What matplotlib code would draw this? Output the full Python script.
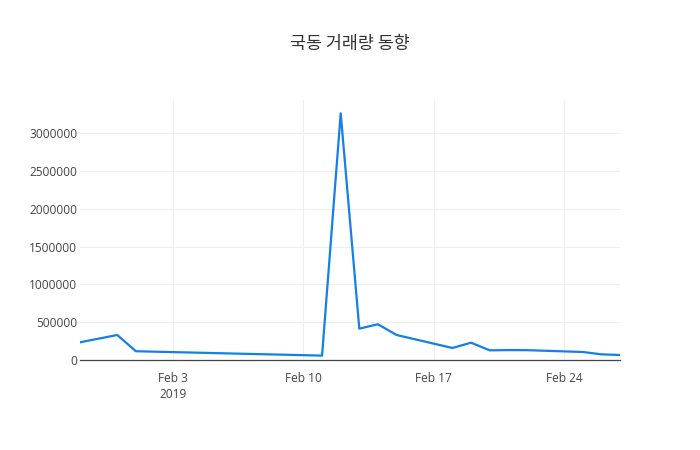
import matplotlib
matplotlib.use("Agg")
import matplotlib.pyplot as plt
import datetime as dt

# daily volume
dates = ["2019-01-29", "2019-01-31", "2019-02-01", "2019-02-11", "2019-02-12",
         "2019-02-13", "2019-02-14", "2019-02-15", "2019-02-18", "2019-02-19",
         "2019-02-20", "2019-02-21", "2019-02-22", "2019-02-25", "2019-02-26",
         "2019-02-27"]
volume = [234000, 331000, 116000, 58000, 3264000,
          415000, 473000, 331000, 159000, 229000,
          128000, 131000, 130000, 106000, 75000,
          66000]

title = "국동 거래량 동향"
tick_dates = ["2019-02-03", "2019-02-10", "2019-02-17", "2019-02-24"]
tick_labels = ["Feb 3\n2019", "Feb 10", "Feb 17", "Feb 24"]
y_ticks = [0, 500000, 1000000, 1500000, 2000000, 2500000, 3000000]

plt.rcParams['font.family'] = ['Open Sans', 'Noto Sans CJK KR', 'DejaVu Sans']

x = [dt.datetime.strptime(d, "%Y-%m-%d") for d in dates]
xt = [dt.datetime.strptime(d, "%Y-%m-%d") for d in tick_dates]

fig = plt.figure(figsize=(7, 4.5), dpi=100)
ax = fig.add_axes([80 / 700, 90 / 450, 540 / 700, 260 / 450])

ax.plot(x, volume, color='#1380e8', linewidth=1.6, zorder=3)

ax.set_xlim(x[0], x[-1])
ax.set_ylim(0, 3.44e6)
ax.set_xticks(xt)
ax.set_xticklabels(tick_labels)
ax.set_yticks(y_ticks)
ax.set_yticklabels([str(v) for v in y_ticks])

ax.grid(True, color='#eeeeee', linewidth=0.75)
ax.set_axisbelow(True)
for s in ['top', 'right', 'left']:
    ax.spines[s].set_visible(False)
ax.spines['bottom'].set_color('#444444')
ax.spines['bottom'].set_linewidth(0.9)
ax.tick_params(length=0, labelsize=8.6, colors='#444444')
ax.tick_params(axis='x', pad=9)
ax.tick_params(axis='y', pad=2)
for lab in ax.get_xticklabels():
    lab.set_linespacing(1.25)

fig.text(0.5, 1 - 44 / 450, title, ha='center', va='center', fontsize=12.5,
         color='#333333', family=['Noto Sans CJK KR', 'DejaVu Sans'])

fig.savefig("out.png", dpi=100, facecolor='white')
